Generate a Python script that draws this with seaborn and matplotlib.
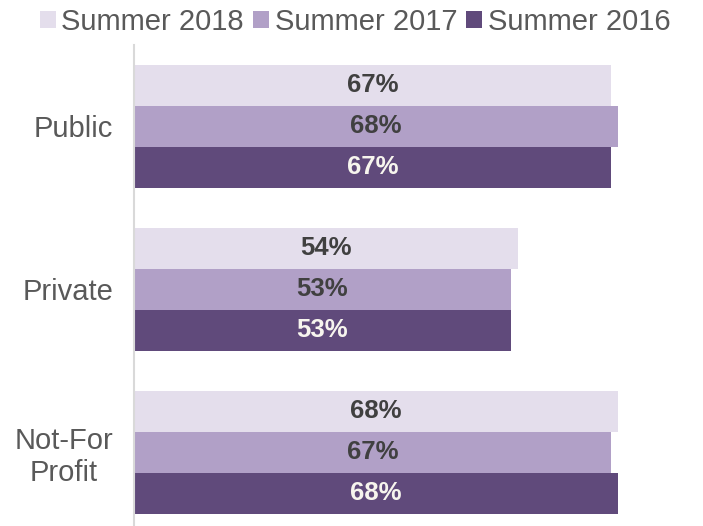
import matplotlib
matplotlib.use("Agg")
import matplotlib.pyplot as plt
import seaborn as sns
import pandas as pd

sectors = ["Public", "Private", "Not-For\nProfit"]
periods = ["Summer 2018", "Summer 2017", "Summer 2016"]
summer_2018 = [67, 54, 68]
summer_2017 = [68, 53, 67]
summer_2016 = [67, 53, 68]

colors = ["#E4DEEC", "#B1A0C7", "#604A7B"]
label_colors = ["#404040", "#404040", "#F7F5EE"]


def main():
    rows = []
    for period, vals in zip(periods, [summer_2018, summer_2017, summer_2016]):
        for sector, v in zip(sectors, vals):
            rows.append({"Sector": sector, "Period": period, "Value": v})
    data = pd.DataFrame(rows)

    sns.set_style("white")
    plt.rcParams['font.family'] = ['Liberation Sans', 'DejaVu Sans']

    fig = plt.figure(figsize=(7.03, 5.26), dpi=100)
    ax = fig.add_axes([0.1906, -0.0143, 0.8094, 0.929])

    sns.barplot(data=data, y="Sector", x="Value", hue="Period",
                order=sectors, hue_order=periods, palette=colors,
                orient="h", width=0.755, gap=0, saturation=1,
                linewidth=0, ax=ax)

    for cont, c in zip(ax.containers, label_colors):
        ax.bar_label(cont, labels=["%d%%" % v for v in cont.datavalues],
                     label_type="center", color=c, fontsize=18.5,
                     fontweight="bold")

    handles, labels = ax.get_legend_handles_labels()
    ax.get_legend().remove()
    fig.legend(handles, labels, loc="center", ncol=3,
               bbox_to_anchor=(0.505, 1 - 22 / 526), frameon=False,
               fontsize=21, handlelength=0.55, handleheight=0.55,
               handletextpad=0.2, columnspacing=0.3,
               labelcolor="#595959", borderaxespad=0)

    ax.set_xlim(0, 80)
    ax.set_ylim(2.5, -0.5)
    ax.set_xlabel("")
    ax.set_ylabel("")
    ax.set_xticks([])
    ax.tick_params(axis="y", length=0, pad=15, labelsize=21,
                   labelcolor="#595959")
    for t in ax.get_yticklabels():
        t.set_multialignment("center")
    for s in ["top", "right", "bottom"]:
        ax.spines[s].set_visible(False)
    ax.spines["left"].set_color("#D9D9D9")
    ax.spines["left"].set_linewidth(1.5)

    plt.savefig("out.png", dpi=100)


if __name__ == "__main__":
    main()
